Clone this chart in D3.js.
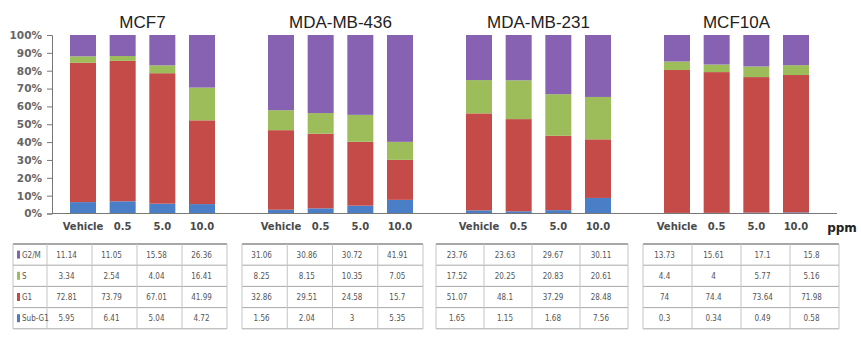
<!DOCTYPE html>
<html>
<head>
<meta charset="utf-8">
<script src="https://cdn.jsdelivr.net/npm/d3@7"></script>
<style>
  html, body { margin: 0; padding: 0; background: #fff; }
  svg { display: block; }
  .title { font-family: "Liberation Sans", Arial, sans-serif; font-size: 17px; fill: #222; }
  .ytick { font-family: "DejaVu Sans", sans-serif; font-size: 10.5px; fill: #666; font-weight: bold; }
  .xtick { font-family: "DejaVu Sans", sans-serif; font-size: 10px; fill: #4a4a4a; font-weight: bold; }
  .cell { font-family: "Liberation Sans Narrow", "DejaVu Sans Condensed", sans-serif; font-size: 8px; fill: #555; }
</style>
</head>
<body>
<div id="chart"></div>
<script>
// cell lines and doses
const cellLines = ["MCF7", "MDA-MB-436", "MDA-MB-231", "MCF10A"];
const doses = ["Vehicle", "0.5", "5.0", "10.0"];

const g2m   = [[11.14, 11.05, 15.58, 26.36], [31.06, 30.86, 30.72, 41.91], [23.76, 23.63, 29.67, 30.11], [13.73, 15.61, 17.1, 15.8]];
const sPh   = [[3.34, 2.54, 4.04, 16.41], [8.25, 8.15, 10.35, 7.05], [17.52, 20.25, 20.83, 20.61], [4.4, 4, 5.77, 5.16]];
const g1    = [[72.81, 73.79, 67.01, 41.99], [32.86, 29.51, 24.58, 15.7], [51.07, 48.1, 37.29, 28.48], [74, 74.4, 73.64, 71.98]];
const subG1 = [[5.95, 6.41, 5.04, 4.72], [1.56, 2.04, 3, 5.35], [1.65, 1.15, 1.68, 7.56], [0.3, 0.34, 0.49, 0.58]];

// stack order bottom -> top
const phases = ["Sub-G1", "G1", "S", "G2/M"];
const phaseData = { "Sub-G1": subG1, "G1": g1, "S": sPh, "G2/M": g2m };
const phaseColors = { "Sub-G1": "#4a7ec6", "G1": "#c44b48", "S": "#9cbd59", "G2/M": "#8762b3" };
// table rows top -> bottom
const tableRows = ["G2/M", "S", "G1", "Sub-G1"];

const yTicks = d3.range(0, 1.01, 0.1);

const width = 861, height = 339;
const svg = d3.select("#chart").append("svg")
  .attr("width", width)
  .attr("height", height);

// scales
const y = d3.scaleLinear().domain([0, 1]).range([213.5, 35]);
const xOuter = d3.scalePoint().domain(cellLines).range([83, 677]);
const xInner = d3.scalePoint().domain(doses).range([0, 119]);
const barW = 26;

// flat rows for stacking
const rows = [];
cellLines.forEach((c, ci) => {
  doses.forEach((d, di) => {
    const r = { line: c, dose: d };
    phases.forEach(p => r[p] = phaseData[p][ci][di]);
    rows.push(r);
  });
});

const stacked = d3.stack().keys(phases).offset(d3.stackOffsetExpand)(rows);

svg.append("g")
  .selectAll("g")
  .data(stacked)
  .join("g")
  .attr("fill", d => phaseColors[d.key])
  .selectAll("rect")
  .data(d => d)
  .join("rect")
  .attr("x", d => xOuter(d.data.line) + xInner(d.data.dose) - barW / 2)
  .attr("y", d => y(d[1]))
  .attr("width", barW)
  .attr("height", d => y(d[0]) - y(d[1]));

// y axis
const yAxis = svg.append("g")
  .attr("transform", "translate(52,0)")
  .call(d3.axisLeft(y).tickValues(yTicks).tickFormat(d3.format(".0%")).tickSize(5).tickPadding(5));
yAxis.select(".domain").attr("stroke", "#777");
yAxis.selectAll(".tick line").attr("stroke", "#777");
yAxis.selectAll("text").attr("class", "ytick").attr("fill", null);

// baseline
svg.append("line")
  .attr("x1", 52).attr("x2", 837)
  .attr("y1", y(0)).attr("y2", y(0))
  .attr("stroke", "#777").attr("stroke-width", 1.2);

// dose labels
svg.append("g")
  .selectAll("text")
  .data(rows)
  .join("text")
  .attr("class", "xtick")
  .attr("x", d => xOuter(d.line) + xInner(d.dose))
  .attr("y", 230)
  .attr("text-anchor", "middle")
  .text(d => d.dose);

svg.append("text")
  .attr("class", "xtick")
  .attr("x", 842).attr("y", 232)
  .attr("text-anchor", "middle")
  .style("font-size", "12px")
  .style("fill", "#222")
  .text("ppm");

// panel titles
svg.append("g")
  .selectAll("text")
  .data(cellLines)
  .join("text")
  .attr("class", "title")
  .attr("x", d => xOuter(d) + xInner.range()[1] / 2)
  .attr("y", 28)
  .attr("text-anchor", "middle")
  .text(d => d);

// data tables below each panel
const tableLeft = [47, 242, 436, 643];
const tableColW = [45, 45.25, 48, 49];
const rowTop = 244, rowH = 21.2;
const tables = svg.append("g");

cellLines.forEach((c, ci) => {
  const x0 = tableLeft[ci], cw = tableColW[ci];
  const g = tables.append("g");
  const left = ci === 0 ? 13 : x0;
  const right = x0 + cw * doses.length;
  // horizontal lines
  d3.range(tableRows.length + 1).forEach(i => {
    g.append("line")
      .attr("x1", left).attr("x2", right)
      .attr("y1", rowTop + i * rowH).attr("y2", rowTop + i * rowH)
      .attr("stroke", i === 0 ? "#8a8a8a" : "#a8a8a8").attr("stroke-width", i === 0 ? 1.4 : 1);
  });
  // vertical lines
  const vx = [left].concat(d3.range(1, doses.length + 1).map(k => x0 + k * cw));
  if (ci === 0) vx.splice(1, 0, x0);
  vx.forEach(x => {
    g.append("line")
      .attr("x1", x).attr("x2", x)
      .attr("y1", rowTop).attr("y2", rowTop + tableRows.length * rowH)
      .attr("stroke", "#c4c4c4");
  });
  // values
  tableRows.forEach((p, ri) => {
    doses.forEach((d, di) => {
      g.append("text")
        .attr("class", "cell")
        .attr("x", x0 + di * cw + cw / 2 - 3)
        .attr("y", rowTop + ri * rowH + rowH / 2 + 3)
        .attr("text-anchor", "middle")
        .text(String(phaseData[p][ci][di]));
    });
  });
});

// legend column inside first table
tableRows.forEach((p, ri) => {
  const cy = rowTop + ri * rowH + rowH / 2;
  tables.append("rect")
    .attr("x", 17).attr("y", cy - 4)
    .attr("width", 3).attr("height", 8)
    .attr("fill", phaseColors[p]);
  tables.append("text")
    .attr("class", "cell")
    .attr("x", 22).attr("y", cy + 3)
    .text(p);
});
</script>
</body>
</html>
